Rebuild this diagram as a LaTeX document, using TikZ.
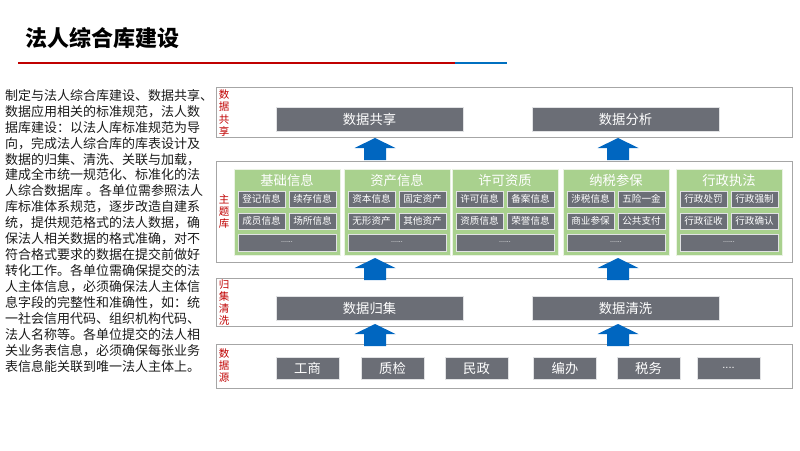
\documentclass[tikz,border=0pt]{standalone}
\usepackage{fontspec}
\setmainfont{Noto Sans CJK SC}
\newfontfamily\latinf{Liberation Sans}
\definecolor{boxgray}{HTML}{6B6E76}
\definecolor{lgreen}{HTML}{A9D18E}
\definecolor{arrowblue}{HTML}{0066C0}
\definecolor{layerline}{HTML}{A6A6A6}
\definecolor{labred}{HTML}{C00000}
\definecolor{titleblue}{HTML}{0070C0}
\definecolor{bodytext}{HTML}{1A1A1A}
\newcommand\blkarrow[3]{% cx, ytop, ybot
  \fill[arrowblue] (#1-20.5,#2+10) -- (#1,#2) -- (#1+20.5,#2+10) -- (#1+11,#2+10) -- (#1+11,#3) -- (#1-11,#3) -- (#1-11,#2+10) -- cycle;}
\newcommand\mkgroup[8]{% name, left, title, c1, c2, c3, c4, wide
  \node[grp, anchor=north west] (#1) at (#2,169) {};
  \node[gtitle] (#1t) at (#2+53,180.5) {#3};
  \node[cell] (#1a) at (#2+27.5,199) {#4};
  \node[cell] (#1b) at (#2+78.5,199) {#5};
  \node[cell] (#1c) at (#2+27.5,221) {#6};
  \node[cell] (#1d) at (#2+78.5,221) {#7};
  \node[cellwide] (#1e) at (#2+53,242.5) {#8};}
\begin{document}
\begin{tikzpicture}[x=1pt,y=-1pt,
  layer/.style={draw=layerline, line width=1.3pt, fill=white, minimum width=576, inner sep=0, anchor=north west},
  gbox/.style={fill=boxgray, draw=white!80!boxgray, line width=0.5pt, text=white, inner sep=0, minimum height=24, font=\fontsize{13.3}{14}\selectfont},
  srcbox/.style={gbox, minimum width=63, minimum height=22},
  grp/.style={fill=lgreen, draw=white!75!lgreen, line width=0.6pt, minimum width=106, minimum height=86, inner sep=0},
  gtitle/.style={text=white, inner sep=0, font=\fontsize{13.3}{14}\selectfont},
  cell/.style={fill=boxgray, draw=white!80!boxgray, line width=0.6pt, text=white, inner sep=0, minimum width=47, minimum height=16, font=\fontsize{9.6}{10}\selectfont},
  cellwide/.style={cell, minimum width=98, minimum height=17, font=\latinf\fontsize{7}{8}\selectfont},
  vlabel/.style={text=labred, inner sep=0, align=center, font=\fontsize{10.5}{12.3}\selectfont}]
\useasboundingbox (0,0) rectangle (800,450);
% title
\node[anchor=west, inner sep=0, font=\fontsize{22}{24}\bfseries] (title) at (25.5,38) {法人综合库建设};
\coordinate (ul0) at (18,63);
\coordinate (ul1) at (455,63);
\coordinate (ul2) at (507,63);
\draw[labred, line width=2pt] (ul0) -- (ul1);
\draw[titleblue, line width=2pt] (ul1) -- (ul2);
% left text
\node[anchor=north west, inner sep=0, align=left, text=bodytext, font=\fontsize{13}{15.95}\selectfont] (para) at (5,89) {%
制定与法人综合库建设、数据共享、\\
数据应用相关的标准规范，法人数\\
据库建设：以法人库标准规范为导\\
向，完成法人综合库的库表设计及\\
数据的归集、清洗、关联与加载，\\
建成全市统一规范化、标准化的法\\
人综合数据库 。各单位需参照法人\\
库标准体系规范，逐步改造自建系\\
统，提供规范格式的法人数据，确\\
保法人相关数据的格式准确，对不\\
符合格式要求的数据在提交前做好\\
转化工作。各单位需确保提交的法\\
人主体信息，必须确保法人主体信\\
息字段的完整性和准确性，如：统\\
一社会信用代码、组织机构代码、\\
法人名称等。各单位提交的法人相\\
关业务表信息，必须确保每张业务\\
表信息能关联到唯一法人主体上。};
% layers
\node[layer, minimum height=50] (l1) at (216,87) {};
\node[layer, minimum height=101] (l2) at (216,161) {};
\node[layer, minimum height=48] (l3) at (216,278) {};
\node[layer, minimum height=44] (l4) at (216,344) {};
\node[vlabel] (v1) at (224,113) {数\\据\\共\\享};
\node[vlabel] (v2) at (224,211.5) {主\\题\\库};
\node[vlabel] (v3) at (224,302.5) {归\\集\\清\\洗};
\node[vlabel] (v4) at (224,365.5) {数\\据\\源};
% layer 1
\node[gbox, minimum width=187] (share) at (369.5,119) {数据共享};
\node[gbox, minimum width=187] (anal) at (625.5,119) {数据分析};
% layer 2 groups
\mkgroup{g1}{234}{基础信息}{登记信息}{续存信息}{成员信息}{场所信息}{......}
\mkgroup{g2}{344}{资产信息}{资本信息}{固定资产}{无形资产}{其他资产}{......}
\mkgroup{g3}{452}{许可资质}{许可信息}{备案信息}{资质信息}{荣誉信息}{......}
\mkgroup{g4}{563}{纳税参保}{涉税信息}{五险一金}{商业参保}{公共支付}{......}
\mkgroup{g5}{676}{行政执法}{行政处罚}{行政强制}{行政征收}{行政确认}{......}
% layer 3
\node[gbox, minimum width=187] (coll) at (369.5,308.5) {数据归集};
\node[gbox, minimum width=187] (clean) at (625.5,308.5) {数据清洗};
% layer 4
\node[srcbox] (s1) at (307.5,368) {工商};
\node[srcbox] (s2) at (392.5,368) {质检};
\node[srcbox] (s3) at (476.5,368) {民政};
\node[srcbox] (s4) at (565,368) {编办};
\node[srcbox] (s5) at (648.5,368) {税务};
\node[srcbox, font=\latinf\fontsize{11}{12}\selectfont] (s6) at (728.5,368) {....};
% arrows
\blkarrow{375}{138}{160}
\blkarrow{618}{138}{160}
\blkarrow{375}{258}{280}
\blkarrow{618}{258}{280}
\blkarrow{375}{324}{346}
\blkarrow{618}{324}{346}
\end{tikzpicture}
\end{document}
